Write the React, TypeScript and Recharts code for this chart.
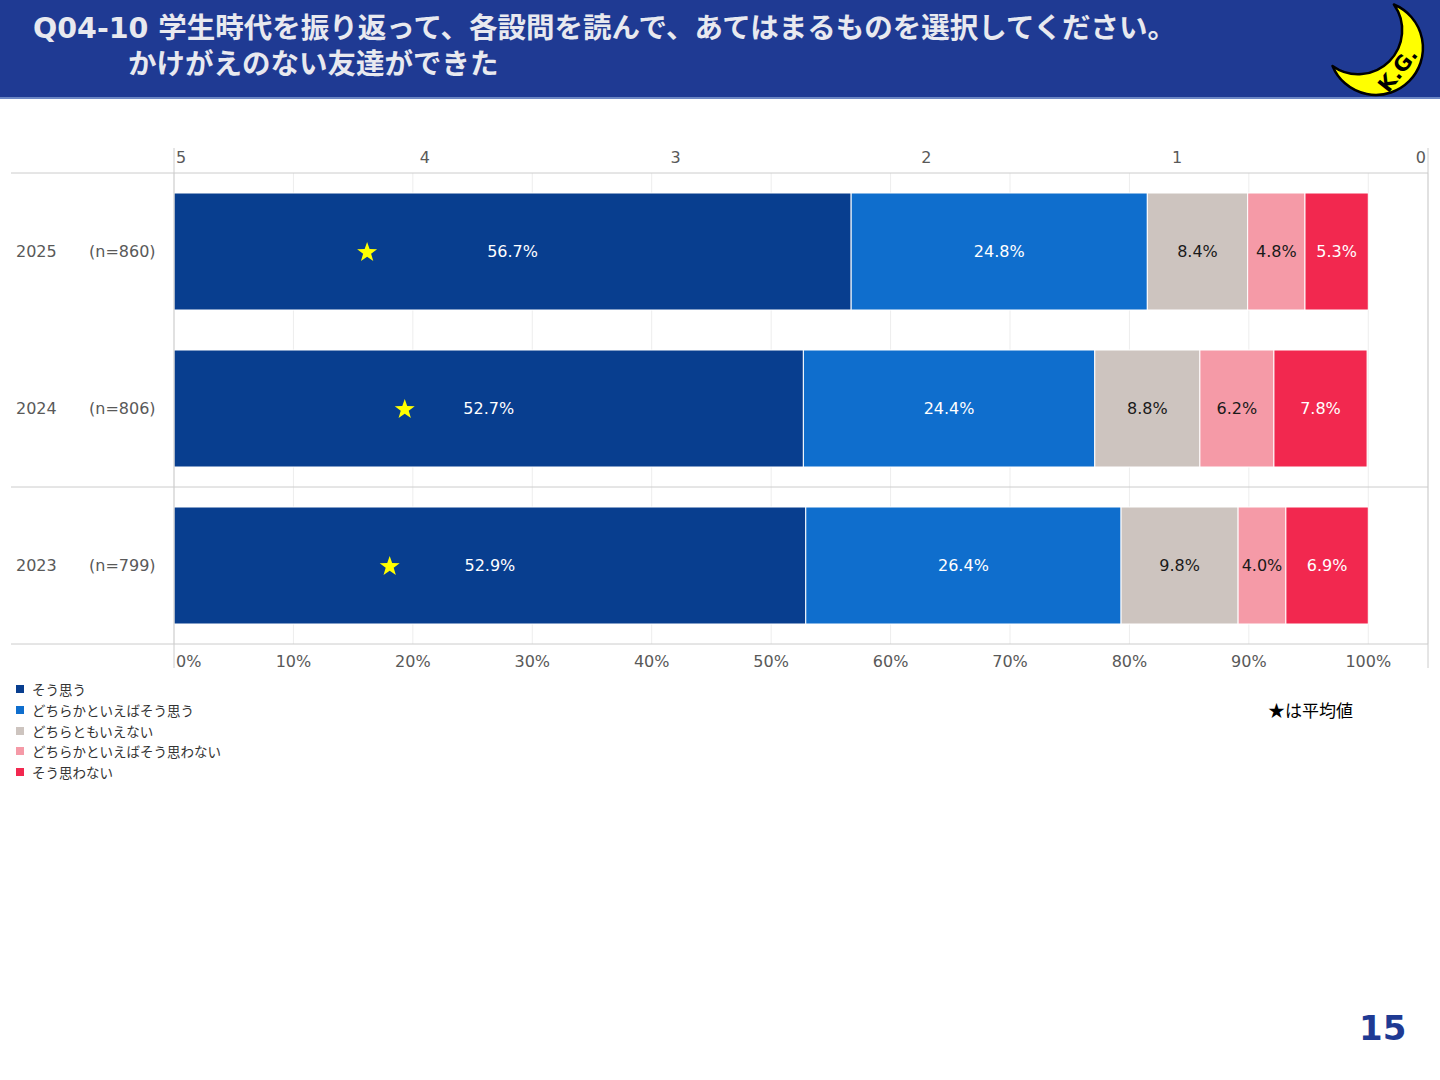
import React from 'react';
import { ComposedChart, Bar, XAxis, YAxis, CartesianGrid, Scatter, LabelList, Legend } from 'recharts';

const years = ['2025', '2024', '2023'];
const sampleSizes = [860, 806, 799];
const seriesNames = ['そう思う', 'どちらかといえばそう思う', 'どちらともいえない', 'どちらかといえばそう思わない', 'そう思わない'];
const agree = [56.7, 52.7, 52.9];
const somewhatAgree = [24.8, 24.4, 26.4];
const neutral = [8.4, 8.8, 9.8];
const somewhatDisagree = [4.8, 6.2, 4.0];
const disagree = [5.3, 7.8, 6.9];
const averages = [4.23, 4.08, 4.14];
const pctTicks = [0, 10, 20, 30, 40, 50, 60, 70, 80, 90, 100];
const scoreTicks = [5, 4, 3, 2, 1, 0];

const seriesKeys = ['s1', 's2', 's3', 's4', 's5'];
const colors = ['#083E8F', '#0F6ECD', '#CDC4BF', '#F59AA7', '#F2284F'];
const labelColors = ['#ffffff', '#ffffff', '#1a1a1a', '#1a1a1a', '#ffffff'];

const data = years.map((y, i) => ({
  year: y,
  n: sampleSizes[i],
  s1: agree[i],
  s2: somewhatAgree[i],
  s3: neutral[i],
  s4: somewhatDisagree[i],
  s5: disagree[i],
  avg: averages[i],
}));

const CHART_W = 1440;
const CHART_H = 800;
const PLOT_TOP = 173;
const PLOT_BOTTOM = 644;
const PLOT_RIGHT = 1428;
const AXIS_H = 30;
const FONT = '"DejaVu Sans", "Noto Sans CJK JP", sans-serif';
const JP_FONT = '"Noto Sans CJK JP", "DejaVu Sans", sans-serif';
const LINE = '#cccccc';

const YTick = (props: any) => {
  const { y, payload } = props;
  const idx = years.indexOf(String(payload.value));
  const band = (PLOT_BOTTOM - PLOT_TOP) / years.length;
  return (
    <g>
      <text x={16} y={y} dy="0.35em" fontSize={16} fill="#595959" fontFamily={FONT} textAnchor="start">
        {payload.value}
      </text>
      <text x={89} y={y} dy="0.35em" fontSize={16} fill="#595959" fontFamily={FONT} textAnchor="start">
        {`(n=${sampleSizes[idx]})`}
      </text>
      {idx === 0 && <line x1={11} x2={PLOT_RIGHT} y1={y - band / 2} y2={y - band / 2} stroke={LINE} strokeWidth={1} />}
      {idx === years.length - 1 && (
        <>
          <line x1={11} x2={PLOT_RIGHT} y1={y - band / 2} y2={y - band / 2} stroke={LINE} strokeWidth={1} />
          <line x1={11} x2={PLOT_RIGHT} y1={y + band / 2} y2={y + band / 2} stroke={LINE} strokeWidth={1} />
        </>
      )}
    </g>
  );
};

const TopTick = (props: any) => {
  const { x, payload } = props;
  const v = payload.value;
  const first = v === scoreTicks[0];
  const last = v === scoreTicks[scoreTicks.length - 1];
  const anchor = first ? 'start' : last ? 'end' : 'middle';
  const tx = first ? x + 2 : last ? x - 2 : x;
  return (
    <g>
      {(first || last) && <line x1={x} x2={x} y1={PLOT_TOP - 25} y2={PLOT_BOTTOM + 24} stroke={LINE} strokeWidth={1} />}
      <text x={tx} y={PLOT_TOP - 10} fontSize={16} fill="#595959" fontFamily={FONT} textAnchor={anchor}>
        {v}
      </text>
    </g>
  );
};

const BottomTick = (props: any) => {
  const { x, payload } = props;
  const v = payload.value;
  const first = v === pctTicks[0];
  return (
    <text x={first ? x + 2 : x} y={PLOT_BOTTOM + 23} fontSize={16} fill="#595959" fontFamily={FONT} textAnchor={first ? 'start' : 'middle'}>
      {`${v}%`}
    </text>
  );
};

const makeLabel = (color: string) => (props: any) => {
  const { x, y, width, height, value } = props;
  return (
    <text x={x + width / 2} y={y + height / 2} dy="0.35em" fontSize={16} fill={color} fontFamily={FONT} textAnchor="middle">
      {`${Number(value).toFixed(1)}%`}
    </text>
  );
};

const Star = (props: any) => {
  const { cx, cy } = props;
  if (cx == null || cy == null) return null;
  const R = 10.5;
  const r = 4.2;
  const pts: string[] = [];
  for (let i = 0; i < 10; i++) {
    const rad = i % 2 === 0 ? R : r;
    const a = -Math.PI / 2 + (i * Math.PI) / 5;
    pts.push(`${cx + rad * Math.cos(a)},${cy + 1 + rad * Math.sin(a)}`);
  }
  return <polygon points={pts.join(' ')} fill="#FFFF00" />;
};

const LegendContent = (props: any) => {
  const items = (props.payload || [])
    .filter((p: any) => p.type !== 'none' && seriesNames.includes(p.value))
    .sort((a: any, b: any) => seriesNames.indexOf(a.value) - seriesNames.indexOf(b.value));
  return (
    <div style={{ fontFamily: JP_FONT, fontSize: 13.5, color: '#333333' }}>
      {items.map((p: any) => (
        <div key={p.value} style={{ display: 'flex', alignItems: 'center', height: 20.7 }}>
          <span style={{ display: 'inline-block', width: 8, height: 8, background: p.color, marginRight: 8 }} />
          <span>{p.value}</span>
        </div>
      ))}
    </div>
  );
};

const Moon = () => (
  <svg width={1440} height={98} style={{ position: 'absolute', left: 0, top: 0 }}>
    <path
      d="M 1393.9 4.5 A 47 47 0 1 1 1332.5 65.9 A 44 44 0 0 0 1393.9 4.5 Z"
      fill="#FFFF00"
      stroke="#000"
      strokeWidth={2.5}
      strokeLinejoin="round"
    />
    <text
      x={1398}
      y={77}
      fontSize={21}
      fontWeight="bold"
      fontFamily='"DejaVu Sans", sans-serif'
      fill="#000"
      textAnchor="middle"
      transform="rotate(-52 1398 70)"
    >
      K.G.
    </text>
  </svg>
);

export default function App() {
  return (
    <div style={{ position: 'absolute', left: 0, top: 0, width: 1440, height: 1080, background: '#fff', overflow: 'hidden' }}>
      <div style={{ position: 'absolute', left: 0, top: 0, width: CHART_W, height: CHART_H }}>
        <ComposedChart
          width={CHART_W}
          height={CHART_H}
          data={data}
          layout="vertical"
          margin={{ top: PLOT_TOP - AXIS_H, right: CHART_W - PLOT_RIGHT, bottom: CHART_H - PLOT_BOTTOM - AXIS_H, left: 11 }}
        >
          <CartesianGrid xAxisId="pct" horizontal={false} stroke="#ededed" />
          <XAxis
            xAxisId="pct"
            type="number"
            orientation="bottom"
            domain={[0, 105]}
            ticks={pctTicks}
            height={AXIS_H}
            axisLine={false}
            tickLine={false}
            tick={<BottomTick />}
            interval={0}
          />
          <XAxis
            xAxisId="avg"
            type="number"
            orientation="top"
            dataKey="avg"
            domain={[0, 5]}
            reversed
            ticks={scoreTicks}
            height={AXIS_H}
            axisLine={false}
            tickLine={false}
            tick={<TopTick />}
            interval={0}
          />
          <YAxis
            type="category"
            dataKey="year"
            width={163}
            axisLine={false}
            tickLine={false}
            tick={<YTick />}
            interval={0}
            allowDuplicatedCategory={false}
          />
          {seriesKeys.map((k, i) => (
            <Bar
              key={k}
              dataKey={k}
              name={seriesNames[i]}
              stackId="a"
              xAxisId="pct"
              fill={colors[i]}
              stroke="#ffffff"
              strokeWidth={1}
              barSize={117}
              isAnimationActive={false}
            >
              <LabelList dataKey={k} content={makeLabel(labelColors[i])} />
            </Bar>
          ))}
          <Scatter
            dataKey="avg"
            name="平均値"
            xAxisId="avg"
            fill="#FFFF00"
            shape={<Star />}
            legendType="none"
            isAnimationActive={false}
          />
          <Legend
            layout="vertical"
            align="center"
            verticalAlign="middle"
            content={<LegendContent />}
            wrapperStyle={{ position: 'absolute', left: 16, top: 679, width: 260, height: 110 }}
          />
        </ComposedChart>
      </div>

      <div
        style={{
          position: 'absolute',
          left: 0,
          top: 0,
          width: 1440,
          height: 97,
          background: '#1F3A93',
          borderBottom: '2px solid #6c87c4',
        }}
      />
      <div
        style={{
          position: 'absolute',
          left: 33,
          top: 11,
          fontFamily: '"DejaVu Sans", "Noto Sans CJK JP", sans-serif',
          fontWeight: 'bold',
          fontSize: 28.5,
          lineHeight: '36px',
          color: '#E8E9EF',
          whiteSpace: 'nowrap',
        }}
      >
        Q04-10 学生時代を振り返って、各設問を読んで、あてはまるものを選択してください。
      </div>
      <div
        style={{
          position: 'absolute',
          left: 128,
          top: 44,
          fontFamily: '"Noto Sans CJK JP", sans-serif',
          fontWeight: 'bold',
          fontSize: 28.5,
          lineHeight: '36px',
          color: '#E8E9EF',
          whiteSpace: 'nowrap',
        }}
      >
        かけがえのない友達ができた
      </div>
      <Moon />

      <div
        style={{
          position: 'absolute',
          left: 1268,
          top: 698,
          fontFamily: JP_FONT,
          fontSize: 17,
          lineHeight: '24px',
          color: '#000',
          whiteSpace: 'nowrap',
        }}
      >
        ★は平均値
      </div>

      <div
        style={{
          position: 'absolute',
          left: 1359,
          top: 1006,
          fontFamily: '"DejaVu Sans", sans-serif',
          fontWeight: 'bold',
          fontSize: 34,
          lineHeight: '44px',
          color: '#1F3A93',
        }}
      >
        15
      </div>
    </div>
  );
}
